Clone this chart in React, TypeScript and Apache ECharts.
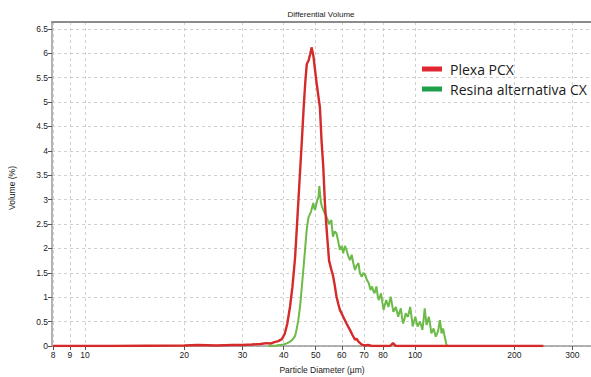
import React, { useEffect, useRef } from "react";
import * as echarts from "echarts";

const xTickValues = [8, 9, 10, 20, 30, 40, 50, 60, 70, 80, 100, 200, 300];
const yTickValues = [0, 0.5, 1, 1.5, 2, 2.5, 3, 3.5, 4, 4.5, 5, 5.5, 6, 6.5];

const plexaDiam = [8, 12, 20, 22, 25, 28, 30, 32, 34, 35.5, 36.5, 37.5, 38.5, 39.5, 40.3, 41, 41.8, 42.5, 43.3, 44, 44.6, 45.4, 46, 46.5, 47, 47.6, 48.2, 48.6, 49.2, 50.3, 51.5, 52.1, 52.7, 53.4, 54.1, 54.9, 55.8, 56.4, 57.1, 57.8, 58.5, 59.2, 60.6, 62, 63.5, 64.7, 65.8, 66.5, 67.4, 69, 70.7, 72, 74, 84, 85.8, 87.5, 100, 150, 245];
const plexaVol = [0, 0, 0.01, 0.02, 0.01, 0.02, 0.02, 0.03, 0.04, 0.06, 0.05, 0.08, 0.1, 0.14, 0.25, 0.45, 0.8, 1.2, 1.8, 2.6, 3.3, 4.2, 4.9, 5.4, 5.78, 5.85, 6.0, 6.12, 5.95, 5.4, 4.89, 4.2, 3.7, 2.85, 2.3, 1.75, 1.56, 1.45, 1.25, 1.02, 0.87, 0.74, 0.6, 0.46, 0.33, 0.22, 0.13, 0.15, 0.09, 0.03, 0.01, 0.02, 0, 0, 0.06, 0, 0, 0, 0];

const resinaDiam = [36, 38, 40, 41, 41.8, 42.5, 43.3, 43.8, 44.3, 44.9, 45.4, 46, 46.5, 47, 47.5, 48, 48.4, 48.8, 49.2, 49.5, 49.8, 50.2, 50.6, 51, 51.3, 51.6, 51.9, 52.3, 52.7, 53.3, 53.9, 54.4, 54.9, 55.3, 55.8, 56.1, 56.4, 57.1, 57.8, 58.5, 59.2, 59.9, 60.6, 61.3, 62, 62.7, 63.5, 64.3, 65, 65.8, 66.6, 67.4, 68.1, 69, 69.8, 70.7, 71.5, 72.4, 73.3, 74.1, 74.8, 75.4, 76.4, 77, 77.6, 78.2, 78.9, 79.6, 80.3, 81.1, 81.8, 82.5, 83.1, 83.8, 84.4, 85.2, 86, 86.8, 87.5, 88.2, 88.9, 89.8, 90.6, 91.3, 92, 92.9, 93.7, 94.5, 95.2, 96, 96.7, 97.6, 98.4, 99.3, 100.2, 101, 101.8, 102.7, 103.5, 104.4, 105.3, 106.2, 107, 107.7, 108.4, 109.2, 110.1, 111.1, 112.1, 113, 113.8, 114.7, 115.6, 116.6, 117.7, 118.4, 119, 119.7, 120.3, 121, 121.6, 122.5, 123.5, 124.3, 125, 130];
const resinaVol = [0, 0.01, 0.03, 0.06, 0.09, 0.13, 0.2, 0.35, 0.53, 0.85, 1.21, 1.65, 2.03, 2.4, 2.62, 2.7, 2.75, 2.85, 2.93, 2.82, 2.79, 2.9, 3.0, 3.05, 3.28, 3.1, 2.93, 2.85, 2.79, 2.72, 2.65, 2.58, 2.5, 2.55, 2.58, 2.4, 2.24, 2.35, 2.31, 2.15, 1.97, 2.05, 1.9, 2.05, 1.97, 1.85, 1.76, 1.87, 1.7, 1.56, 1.65, 1.7, 1.49, 1.42, 1.5, 1.45, 1.35, 1.29, 1.15, 1.22, 1.12, 1.08, 1.22, 1.05, 0.94, 1.0, 1.08, 0.9, 0.74, 0.85, 0.94, 0.86, 0.8, 0.92, 1.01, 0.85, 0.7, 0.75, 0.8, 0.7, 0.6, 0.7, 0.77, 0.6, 0.46, 0.55, 0.67, 0.62, 0.6, 0.7, 0.8, 0.6, 0.4, 0.5, 0.6, 0.5, 0.4, 0.45, 0.5, 0.42, 0.33, 0.55, 0.77, 0.6, 0.43, 0.5, 0.6, 0.45, 0.26, 0.3, 0.36, 0.28, 0.19, 0.25, 0.33, 0.45, 0.53, 0.4, 0.26, 0.3, 0.36, 0.25, 0.14, 0.05, 0, 0];

const seriesNames = ["Plexa PCX", "Resina alternativa CX"];
const titleText = "Differential Volume";
const xAxisTitle = "Particle Diameter (µm)";
const yAxisTitle = "Volume (%)";

const lg = (v: number) => Math.log10(v);

export default function App() {
  const ref = useRef<HTMLDivElement>(null);
  useEffect(() => {
    if (!ref.current) return;
    const chart = echarts.init(ref.current, null, { renderer: "svg" });
    const xCustom = xTickValues.map(lg);
    const labelFont = "Liberation Sans";
    const option: any = {
      animation: false,
      backgroundColor: "#ffffff",
      grid: { left: 52, right: 0, top: 22, bottom: 31, containLabel: false },
      xAxis: [
        {
          type: "value",
          min: 0.9,
          max: 2.5333,
          axisLine: { show: true, lineStyle: { color: "#9a9a9a", width: 1.5 } },
          axisTick: { show: true, length: 4, customValues: xCustom, lineStyle: { color: "#555" } },
          axisLabel: {
            show: true,
            customValues: xCustom,
            formatter: (v: number) => String(Math.round(Math.pow(10, v))),
            fontFamily: labelFont,
            fontSize: 8.5,
            color: "#1a1a1a",
            margin: 4,
          },
          splitLine: { show: true, lineStyle: { color: "#d0d0d0", type: [3, 3], width: 1 } },
        },
        {
          type: "value",
          position: "top",
          min: 0.9,
          max: 2.5333,
          axisLine: { show: true, lineStyle: { color: "#8c8c8c", width: 2 } },
          axisTick: { show: false },
          axisLabel: { show: false },
          splitLine: { show: false },
        },
      ],
      yAxis: {
        type: "value",
        min: 0,
        max: 6.64,
        interval: 0.5,
        axisLine: { show: true, lineStyle: { color: "#9a9a9a", width: 1.5 } },
        axisTick: { show: true, length: 4, customValues: yTickValues, lineStyle: { color: "#555" } },
        axisLabel: {
          customValues: yTickValues,
          fontFamily: labelFont,
          fontSize: 8.5,
          color: "#1a1a1a",
          margin: 4,
        },
        splitLine: { show: true, lineStyle: { color: "#d0d0d0", type: [3, 3], width: 1 } },
      },
      series: [
        {
          name: seriesNames[1],
          type: "line",
          data: resinaDiam.map((d, i) => [lg(d), resinaVol[i]]),
          showSymbol: false,
          symbol: "none",
          lineStyle: { color: "#6cbb48", width: 2 },
          z: 3,
        },
        {
          name: seriesNames[0],
          type: "line",
          data: plexaDiam.map((d, i) => [lg(d), plexaVol[i]]),
          showSymbol: false,
          symbol: "none",
          lineStyle: { color: "#d52a2a", width: 2.4 },
          z: 4,
        },
      ],
      graphic: [
        { type: "text", x: 321, y: 14, style: { text: titleText, fontFamily: labelFont, fontSize: 8, fill: "#1a1a1a", align: "center", verticalAlign: "middle" } },
        { type: "text", x: 322, y: 370, style: { text: xAxisTitle, fontFamily: labelFont, fontSize: 8.5, fill: "#1a1a1a", align: "center", verticalAlign: "middle" } },
        { type: "text", x: 12, y: 188, rotation: Math.PI / 2, style: { text: yAxisTitle, fontFamily: labelFont, fontSize: 8.5, fill: "#1a1a1a", align: "center", verticalAlign: "middle" } },
        { type: "rect", shape: { x: 422, y: 66.5, width: 20, height: 5 }, style: { fill: "#e0262e" } },
        { type: "text", x: 450, y: 69.5, style: { text: seriesNames[0], fontFamily: "Open Sans", fontSize: 14, fill: "#1a1a1a", verticalAlign: "middle" } },
        { type: "rect", shape: { x: 422, y: 86.5, width: 20, height: 5 }, style: { fill: "#1f9e4b" } },
        { type: "text", x: 450, y: 89.5, style: { text: seriesNames[1], fontFamily: "Open Sans", fontSize: 14, fill: "#1a1a1a", verticalAlign: "middle" } },
      ],
    };
    chart.setOption(option);
    return () => chart.dispose();
  }, []);
  return (
    <div
      ref={ref}
      style={{ position: "fixed", left: 0, top: 0, width: 591, height: 377, background: "#fff" }}
    />
  );
}
